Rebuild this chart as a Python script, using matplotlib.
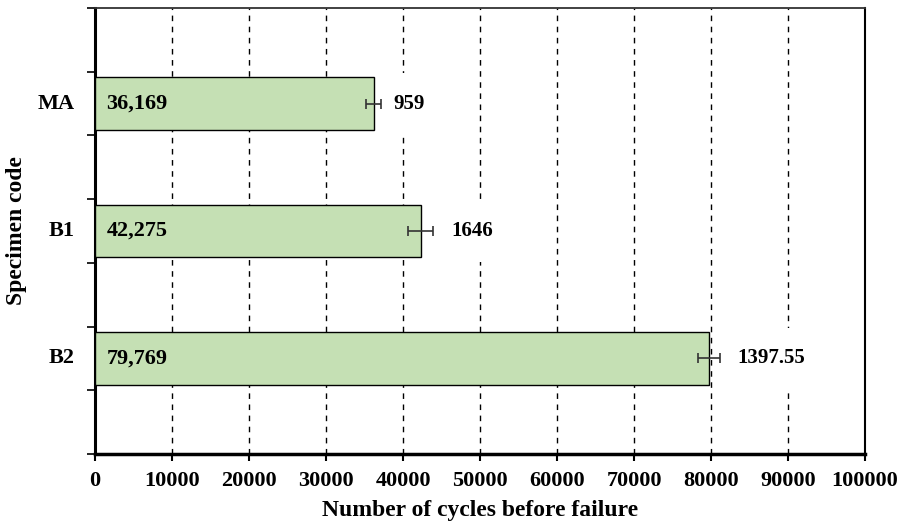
import matplotlib
matplotlib.use("Agg")
import matplotlib.pyplot as plt

categories = ["MA", "B1", "B2"]
values = [36169, 42275, 79769]
errors = [959, 1646, 1397.55]
value_labels = ["36,169", "42,275", "79,769"]
error_labels = ["959", "1646", "1397.55"]
xticks = [0, 10000, 20000, 30000, 40000, 50000, 60000, 70000, 80000, 90000, 100000]

plt.rcParams['font.family'] = ['Liberation Serif', 'DejaVu Serif']
plt.rcParams['font.weight'] = 'bold'

FS = 16
FL = 17
FE = 15

fig = plt.figure(figsize=(9.01, 5.27), dpi=100)
ax = fig.add_axes([95/901, 1 - 454/527, 770/901, 446/527])

ypos = [5.5, 3.5, 1.5]
ax.barh(ypos, values, height=0.82, color="#c5e0b4", edgecolor="black", linewidth=1.0, zorder=3)
ax.errorbar(values, ypos, xerr=errors, fmt='none', ecolor="#333333", elinewidth=1.2,
            capsize=3.6, capthick=1.2, zorder=4)

offsets = [1600, 2400, 2200]
for y, v, e, vl, el, off in zip(ypos, values, errors, value_labels, error_labels, offsets):
    ax.text(1500, y, vl, ha='left', va='center', fontsize=FS, fontweight='bold', zorder=5)
    ax.text(v + e + off, y, el, ha='left', va='center', fontsize=FE, fontweight='bold', zorder=2,
            bbox=dict(facecolor='white', edgecolor='none', pad=15))

ax.set_xlim(0, 100000)
ax.set_ylim(0, 7)
ax.set_xticks(xticks)
ax.set_xticklabels([str(t) for t in xticks], fontsize=FS, fontweight='bold')
ax.set_yticks(range(8))
ax.set_yticklabels([])
for y, c in zip(ypos, categories):
    ax.text(-0.026, y, c, transform=ax.get_yaxis_transform(), ha='right', va='center',
            fontsize=FS, fontweight='bold')

ax.xaxis.grid(True, linestyle=(0, (4, 4)), color='black', linewidth=1.0, zorder=1)
ax.set_axisbelow(True)
ax.tick_params(axis='x', direction='out', length=5, width=1.5, pad=7)
ax.tick_params(axis='y', direction='out', length=6, width=1.2)

ax.spines['left'].set_linewidth(2.2)
ax.spines['bottom'].set_linewidth(2.5)
ax.spines['top'].set_linewidth(1.3)
ax.spines['right'].set_linewidth(1.5)
ax.spines['top'].set_color('#333333')

ax.set_xlabel("Number of cycles before failure", fontsize=FL, fontweight='bold')
ax.set_ylabel("Specimen code", fontsize=FL, fontweight='bold')
ax.xaxis.set_label_coords(0.5, -0.103)
ax.yaxis.set_label_coords(-0.088, 0.5)

fig.savefig("out.png", dpi=100)
